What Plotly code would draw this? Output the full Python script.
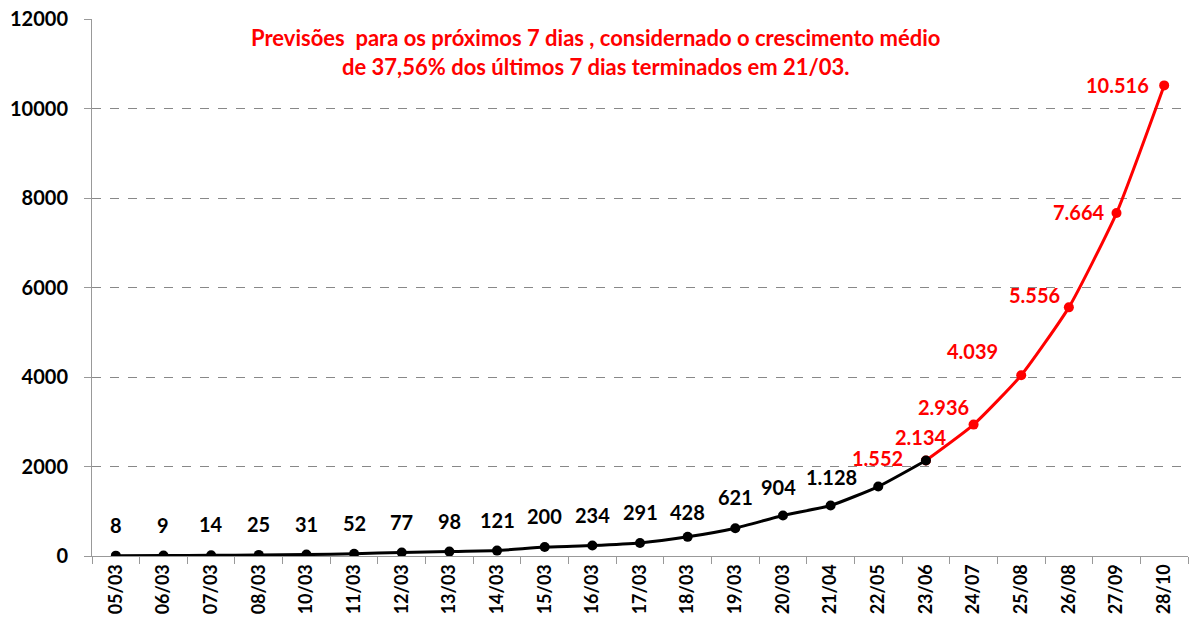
import plotly.graph_objects as go

categories = ['05/03', '06/03', '07/03', '08/03', '10/03', '11/03', '12/03', '13/03',
              '14/03', '15/03', '16/03', '17/03', '18/03', '19/03', '20/03', '21/04',
              '22/05', '23/06', '24/07', '25/08', '26/08', '27/09', '28/10']
actual = [8, 9, 14, 25, 31, 52, 77, 98, 121, 200, 234, 291, 428, 621, 904, 1128, 1552, 2134]
forecast_cats = categories[17:]
forecast = [2134, 2936, 4039, 5556, 7664, 10516]

note_line1 = "Previsões  para os próximos 7 dias , considernado o crescimento médio"
note_line2 = "de 37,56% dos últimos 7 dias terminados em 21/03."

FONT = "Lato"
RED = "#ff0000"

def fmt(v):
    return f"{v:,}".replace(",", ".")

fig = go.Figure()
fig.add_trace(go.Scatter(
    x=forecast_cats, y=forecast, mode="lines+markers",
    line=dict(color=RED, width=3, shape="spline", smoothing=0.5),
    marker=dict(color=RED, size=10), hoverinfo="skip", showlegend=False))
fig.add_trace(go.Scatter(
    x=categories[:len(actual)], y=actual, mode="lines+markers",
    line=dict(color="black", width=3, shape="spline", smoothing=0.5),
    marker=dict(color="black", size=10), hoverinfo="skip", showlegend=False))

# label offsets (pixels) for readability
act_shift = [(0, 31)] * 12 + [(0, 25), (0, 31), (-4, 29), (1, 29), (-1, 29), (-5, 24)]
act_color = ["black"] * 16 + [RED, RED]
fc_shift = [(-30, 18), (-49, 24), (-34, 12), (-38, 1), (-47, 0)]

LBL = 20
annotations = []
for c, v, (dx, dy), col in zip(categories, actual, act_shift, act_color):
    annotations.append(dict(x=c, y=v, text=fmt(v), showarrow=False, xshift=dx, yshift=dy,
                            font=dict(family=FONT, size=LBL, color=col, weight="bold")))
for c, v, (dx, dy) in zip(forecast_cats[1:], forecast[1:], fc_shift):
    annotations.append(dict(x=c, y=v, text=fmt(v), showarrow=False, xshift=dx, yshift=dy,
                            font=dict(family=FONT, size=LBL, color=RED, weight="bold")))
annotations.append(dict(xref="paper", yref="paper", x=0.46, y=0.965, text=note_line1,
                        xanchor="center", yanchor="middle",
                        showarrow=False, font=dict(family=FONT, size=22, color=RED, weight="bold")))
annotations.append(dict(xref="paper", yref="paper", x=0.46, y=0.912, text=note_line2,
                        xanchor="center", yanchor="middle",
                        showarrow=False, font=dict(family=FONT, size=22, color=RED, weight="bold")))

fig.update_layout(
    width=1191, height=630,
    margin=dict(l=92, r=3, t=19, b=74),
    paper_bgcolor="white", plot_bgcolor="white",
    font=dict(family=FONT, size=16, color="black"),
    annotations=annotations,
    xaxis=dict(type="category", categoryorder="array", categoryarray=categories,
               range=[-0.5, len(categories) - 0.5], automargin=False,
               showgrid=False, showline=True, linecolor="#999999", linewidth=1,
               ticks="outside", tickson="boundaries", ticklen=7, tickcolor="#999999",
               tickangle=-90, tickfont=dict(family=FONT, size=18, color="black", weight="bold")),
    yaxis=dict(range=[0, 12000], tickvals=[0, 2000, 4000, 6000, 8000, 10000, 12000],
               ticktext=["0", "2000", "4000", "6000", "8000", "10000", "12000"],
               automargin=False, ticklabelstandoff=12, ticklabeloverflow="allow",
               showgrid=True, gridcolor="#888888", griddash="dash", gridwidth=1,
               zeroline=False, showline=True, linecolor="#999999", linewidth=1,
               ticks="outside", ticklen=7, tickcolor="#999999",
               tickfont=dict(family=FONT, size=20, color="black", weight="bold")),
)
fig.write_html("out.html", config={"displayModeBar": False},
               post_script="document.body.style.margin='0';document.body.style.overflow='hidden';")
